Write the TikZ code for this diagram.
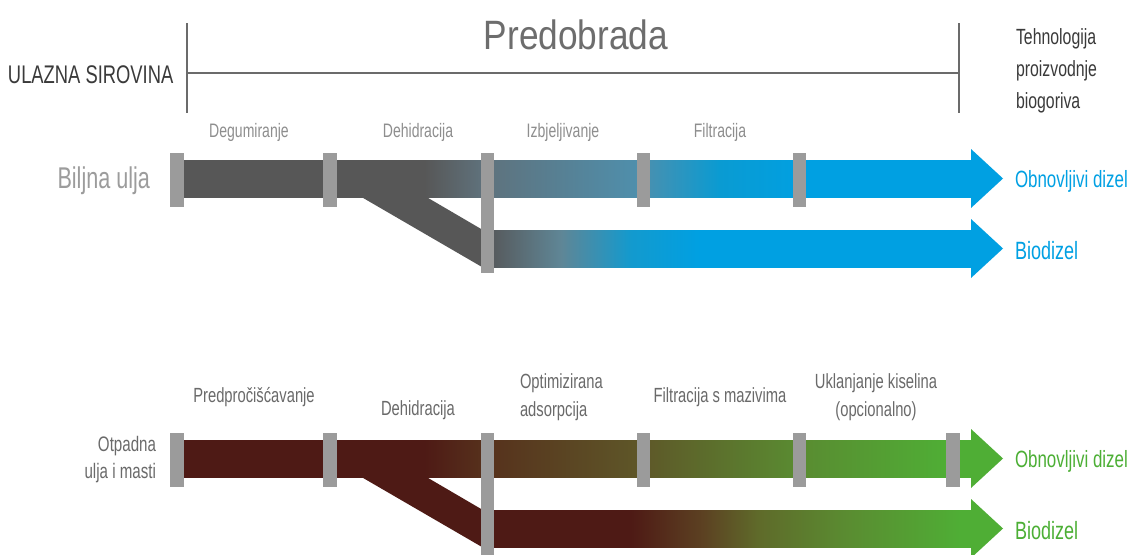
\documentclass[tikz,border=0pt]{standalone}
\usepackage{fontspec}
\setmainfont{Liberation Sans}[FakeStretch=0.72]
\newfontfamily\predfont{Liberation Sans}[FakeStretch=0.86]
\newcommand\fsz[1]{\fontsize{#1}{#1}\selectfont}
% colours
\definecolor{linecol}{HTML}{6B6B6B}
\definecolor{blockgray}{HTML}{9B9B9B}
\definecolor{dg}{HTML}{575757}
\definecolor{bA}{HTML}{5F717B}
\definecolor{bB}{HTML}{4F8FAC}
\definecolor{bC}{HTML}{0A9BD2}
\definecolor{bD}{HTML}{00A0E2}
\definecolor{lA}{HTML}{575B5E}
\definecolor{lB}{HTML}{5F8696}
\definecolor{lC}{HTML}{139ACE}
\definecolor{br}{HTML}{4E1A15}
\definecolor{gA}{HTML}{56301C}
\definecolor{gB}{HTML}{5E5628}
\definecolor{gC}{HTML}{5A8A31}
\definecolor{gD}{HTML}{4FAE35}
\definecolor{mA}{HTML}{5C4122}
\definecolor{mB}{HTML}{5F6A2A}
\definecolor{mC}{HTML}{5A8C31}
\definecolor{darktxt}{HTML}{3A3A3A}
\definecolor{predtxt}{HTML}{6D6D6D}
\definecolor{lighttxt}{HTML}{8E8E8E}
\definecolor{biljtxt}{HTML}{9C9C9C}
\definecolor{midtxt}{HTML}{6A6A6A}
\definecolor{bluetxt}{HTML}{00A0E3}
\definecolor{greentxt}{HTML}{4CAF35}
% gradients: stop position = 25 + p/2, p = percentage along the bar
\pgfdeclarehorizontalshading{bluetop}{100bp}{color(0bp)=(dg); color(25bp)=(dg); color(40.3bp)=(dg); color(43.9bp)=(bA); color(53.8bp)=(bB); color(59bp)=(bC); color(64.5bp)=(bD); color(75bp)=(bD); color(100bp)=(bD)}
\pgfdeclarehorizontalshading{bluelow}{100bp}{color(0bp)=(lA); color(25bp)=(lA); color(32.1bp)=(lB); color(39.4bp)=(lC); color(46.6bp)=(bD); color(75bp)=(bD); color(100bp)=(bD)}
\pgfdeclarehorizontalshading{browntop}{100bp}{color(0bp)=(br); color(25bp)=(br); color(40.3bp)=(br); color(43.9bp)=(gA); color(53.8bp)=(gB); color(63.7bp)=(gC); color(73.4bp)=(gD); color(75bp)=(gD); color(100bp)=(gD)}
\pgfdeclarehorizontalshading{brownlow}{100bp}{color(0bp)=(br); color(25bp)=(br); color(39.4bp)=(br); color(46.9bp)=(mA); color(52.6bp)=(mB); color(61.9bp)=(mC); color(73.8bp)=(gD); color(75bp)=(gD); color(100bp)=(gD)}
\begin{document}
\begin{tikzpicture}[x=1pt,y=-1pt,
  txt/.style={inner sep=0pt, outer sep=0pt},
  blk/.style={fill=blockgray},
  rule/.style={draw=linecol, line width=2pt}]
\clip (0,0) rectangle (1132,554);
\fill[white] (0,0) rectangle (1132,554);

% ---------- header ----------
\coordinate (lt) at (187,23);
\coordinate (lb) at (187,113);
\coordinate (rt) at (959,23);
\coordinate (rb) at (959,113);
\coordinate (lm) at (187,73);
\coordinate (rm) at (959,73);
\draw[rule] (lt) -- (lb);
\draw[rule] (rt) -- (rb);
\draw[rule] (lm) -- (rm);

\node[txt, anchor=base west, text=darktxt] (ulaz) at (8,83) {\fsz{25.5}ULAZNA SIROVINA};
\node[txt, anchor=base, text=predtxt] (pred) at (576,49) {\predfont\fsz{41}Predobrada};
\node[txt, anchor=base west, text=darktxt] (teh1) at (1016,44) {\fsz{22}Tehnologija};
\node[txt, anchor=base west, text=darktxt] (teh2) at (1016,76) {\fsz{22}proizvodnje};
\node[txt, anchor=base west, text=darktxt] (teh3) at (1016,108) {\fsz{22}biogoriva};

% ---------- upper section: Biljna ulja ----------
\node[txt, anchor=base east, text=biljtxt] (bilj) at (150,188) {\fsz{30}Biljna ulja};
\node[txt, anchor=base, text=lighttxt] (deg) at (249,137) {\fsz{19.5}Degumiranje};
\node[txt, anchor=base, text=lighttxt] (deh1) at (418,137) {\fsz{19.5}Dehidracija};
\node[txt, anchor=base, text=lighttxt] (izb) at (563,137) {\fsz{19.5}Izbjeljivanje};
\node[txt, anchor=base, text=lighttxt] (fil1) at (720,137) {\fsz{19.5}Filtracija};

% main bar
\shade[shading=bluetop] (183,160) rectangle (972,197);
\fill[bD] (971,149) -- (1003,178.5) -- (971,208) -- cycle;
% branch
\fill[dg] (358,195) -- (423,195) -- (482,229.5) -- (482,267) -- cycle;
\shade[shading=bluelow] (493,230) rectangle (972,267);
\fill[bD] (971,219) -- (1003,248.5) -- (971,278) -- cycle;
% blocks
\fill[blk] (170,153) rectangle (184,207);
\fill[blk] (323,153) rectangle (337,207);
\fill[blk] (481,153) rectangle (494,273);
\fill[blk] (637,153) rectangle (650,207);
\fill[blk] (793,153) rectangle (806,207);

\node[txt, anchor=base west, text=bluetxt] (obn1) at (1015,187) {\fsz{23.5}Obnovljivi dizel};
\node[txt, anchor=base west, text=bluetxt] (bio1) at (1015,259) {\fsz{25}Biodizel};

% ---------- lower section: Otpadna ulja i masti ----------
\node[txt, anchor=base east, text=midtxt] (otp1) at (156,451) {\fsz{21}Otpadna};
\node[txt, anchor=base east, text=midtxt] (otp2) at (156,478) {\fsz{21}ulja i masti};
\node[txt, anchor=base, text=midtxt] (predp) at (254,402) {\fsz{20.5}Predpročišćavanje};
\node[txt, anchor=base, text=midtxt] (deh2) at (418,415) {\fsz{20.5}Dehidracija};
\node[txt, anchor=base west, text=midtxt] (opt1) at (520,388) {\fsz{20.5}Optimizirana};
\node[txt, anchor=base west, text=midtxt] (opt2) at (520,416) {\fsz{20.5}adsorpcija};
\node[txt, anchor=base, text=midtxt] (fil2) at (720,402) {\fsz{20.5}Filtracija s mazivima};
\node[txt, anchor=base, text=midtxt] (ukl1) at (876,388) {\fsz{20.5}Uklanjanje kiselina};
\node[txt, anchor=base, text=midtxt] (ukl2) at (876,416) {\fsz{20.5}(opcionalno)};

% main bar
\shade[shading=browntop] (183,440) rectangle (972,477);
\fill[gD] (971,429) -- (1003,458.5) -- (971,488) -- cycle;
% branch
\fill[br] (358,475) -- (423,475) -- (482,509.5) -- (482,547) -- cycle;
\shade[shading=brownlow] (493,510) rectangle (972,547);
\fill[gD] (971,499) -- (1003,528.5) -- (971,558) -- cycle;
% blocks
\fill[blk] (170,433) rectangle (184,487);
\fill[blk] (323,433) rectangle (337,487);
\fill[blk] (481,433) rectangle (494,556);
\fill[blk] (637,433) rectangle (650,487);
\fill[blk] (793,433) rectangle (806,487);
\fill[blk] (946,433) rectangle (960,487);

\node[txt, anchor=base west, text=greentxt] (obn2) at (1015,467) {\fsz{23.5}Obnovljivi dizel};
\node[txt, anchor=base west, text=greentxt] (bio2) at (1015,539) {\fsz{25}Biodizel};
\end{tikzpicture}
\end{document}
